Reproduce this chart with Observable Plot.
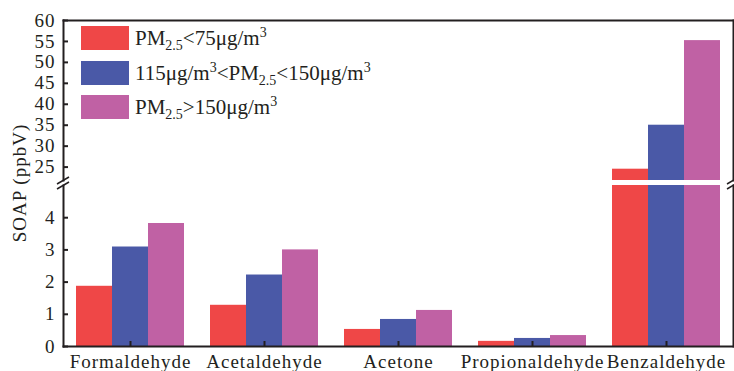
<!DOCTYPE html>
<html><head><meta charset="utf-8">
<script src="https://cdn.jsdelivr.net/npm/d3@7"></script>
<script src="https://cdn.jsdelivr.net/npm/@observablehq/plot@0.6"></script>
<style>
body{margin:0;background:#fff;}
#chart{position:relative;width:734px;height:371px;overflow:hidden;font-family:"Liberation Serif","Times New Roman",serif;color:#231f20;}
.panel{position:absolute;left:0;}
.legend-item{position:absolute;left:81px;display:flex;align-items:center;font-size:21px;white-space:nowrap;line-height:24px;}
.legend-item .sw{width:48px;height:24px;margin-right:6px;flex:none;}
.legend-item sub,.legend-item sup{font-size:14px;line-height:0;}
.legend-item sub{vertical-align:-5px;}
.legend-item sup{vertical-align:8px;}
#ylabel{position:absolute;left:20px;top:183px;transform:translate(-50%,-50%) rotate(-90deg);font-size:19px;letter-spacing:1px;white-space:nowrap;}
</style></head><body><div id="chart"></div>
<script>
const categories = ["Formaldehyde", "Acetaldehyde", "Acetone", "Propionaldehyde", "Benzaldehyde"];
const seriesNames = ["PM2.5<75μg/m3", "115μg/m3<PM2.5<150μg/m3", "PM2.5>150μg/m3"];
const lowValues = [1.87, 1.28, 0.53, 0.16, 24.5];
const midValues = [3.09, 2.22, 0.84, 0.25, 35.0];
const highValues = [3.82, 3.00, 1.12, 0.34, 55.2];
const upperTicks = [25, 30, 35, 40, 45, 50, 55, 60];
const lowerTicks = [0, 1, 2, 3, 4];
const upperDomain = [21.8, 60];
const lowerDomain = [0, 5];
const colors = ["#ef4747", "#4a59a7", "#c061a4"];
const legendHTML = [
  "PM<sub>2.5</sub>&lt;75μg/m<sup>3</sup>",
  "115μg/m<sup>3</sup>&lt;PM<sub>2.5</sub>&lt;150μg/m<sup>3</sup>",
  "PM<sub>2.5</sub>&gt;150μg/m<sup>3</sup>"
];

const W = 734, ML = 63, MR = 1;
const ink = "#231f20";
const padIn = 0.194, padOut = 0.097;
const band = d3.scaleBand(categories, [ML, W - MR]).paddingInner(padIn).paddingOuter(padOut).bandwidth();
const sub = band / 3;
const seriesValues = [lowValues, midValues, highValues];

function bars() {
  return seriesValues.map((vals, i) => Plot.barY(
    categories.map((c, j) => ({category: c, value: vals[j], series: seriesNames[i]})),
    {x: "category", y: "value", fill: colors[i], insetLeft: i * sub, insetRight: (2 - i) * sub, clip: true}
  ));
}
const style = {fontFamily: '"Liberation Serif","Times New Roman",serif', fontSize: "19px", color: ink, background: "transparent", overflow: "visible", letterSpacing: "1px"};
const frameLine = a => Plot.frame({anchor: a, stroke: ink, strokeWidth: 2});
const fmt = d3.format("d");

const upper = Plot.plot({
  width: W, height: 181, marginLeft: ML, marginRight: MR, marginTop: 20, marginBottom: 1,
  x: {domain: categories, paddingInner: padIn, paddingOuter: padOut, axis: null},
  y: {domain: upperDomain, axis: null},
  style,
  marks: [
    ...bars(),
    Plot.axisY({ticks: upperTicks, tickFormat: fmt, label: null, tickSize: -5, tickPadding: 13, strokeWidth: 2, stroke: ink, fill: ink}),
    frameLine("left"), frameLine("top"), frameLine("right")
  ]
});
const lower = Plot.plot({
  width: W, height: 187, marginLeft: ML, marginRight: MR, marginTop: 1, marginBottom: 25,
  x: {domain: categories, paddingInner: padIn, paddingOuter: padOut, axis: null},
  y: {domain: lowerDomain, axis: null},
  style,
  marks: [
    ...bars(),
    Plot.axisY({ticks: lowerTicks, tickFormat: fmt, label: null, tickSize: -5, tickPadding: 13, strokeWidth: 2, stroke: ink, fill: ink}),
    Plot.axisX({label: null, tickSize: -5, tickPadding: 13, strokeWidth: 2, stroke: ink, fill: ink}),
    frameLine("left"), frameLine("bottom"), frameLine("right")
  ]
});

const chart = document.getElementById("chart");
upper.classList.add("panel"); upper.style.top = "0px";
lower.classList.add("panel"); lower.style.top = "184px";
chart.append(upper, lower);

// axis break marks
const brk = d3.create("svg").attr("width", W).attr("height", 371)
  .style("position", "absolute").style("left", 0).style("top", 0).style("pointer-events", "none");
[ML, W - MR].forEach(x0 => {
  [0, 5].forEach(off => {
    brk.append("line").attr("x1", x0 - 6).attr("y1", 184 + off).attr("x2", x0 + 6).attr("y2", 177 + off)
      .attr("stroke", ink).attr("stroke-width", 1.5);
  });
});
chart.append(brk.node());

legendHTML.forEach((h, i) => {
  const d = document.createElement("div");
  d.className = "legend-item";
  d.style.top = (26 + i * 34.5) + "px";
  d.innerHTML = `<div class="sw" style="background:${colors[i]}"></div><span>${h}</span>`;
  chart.append(d);
});
const yl = document.createElement("div");
yl.id = "ylabel";
yl.textContent = "SOAP (ppbV)";
chart.append(yl);
</script>
</body></html>
